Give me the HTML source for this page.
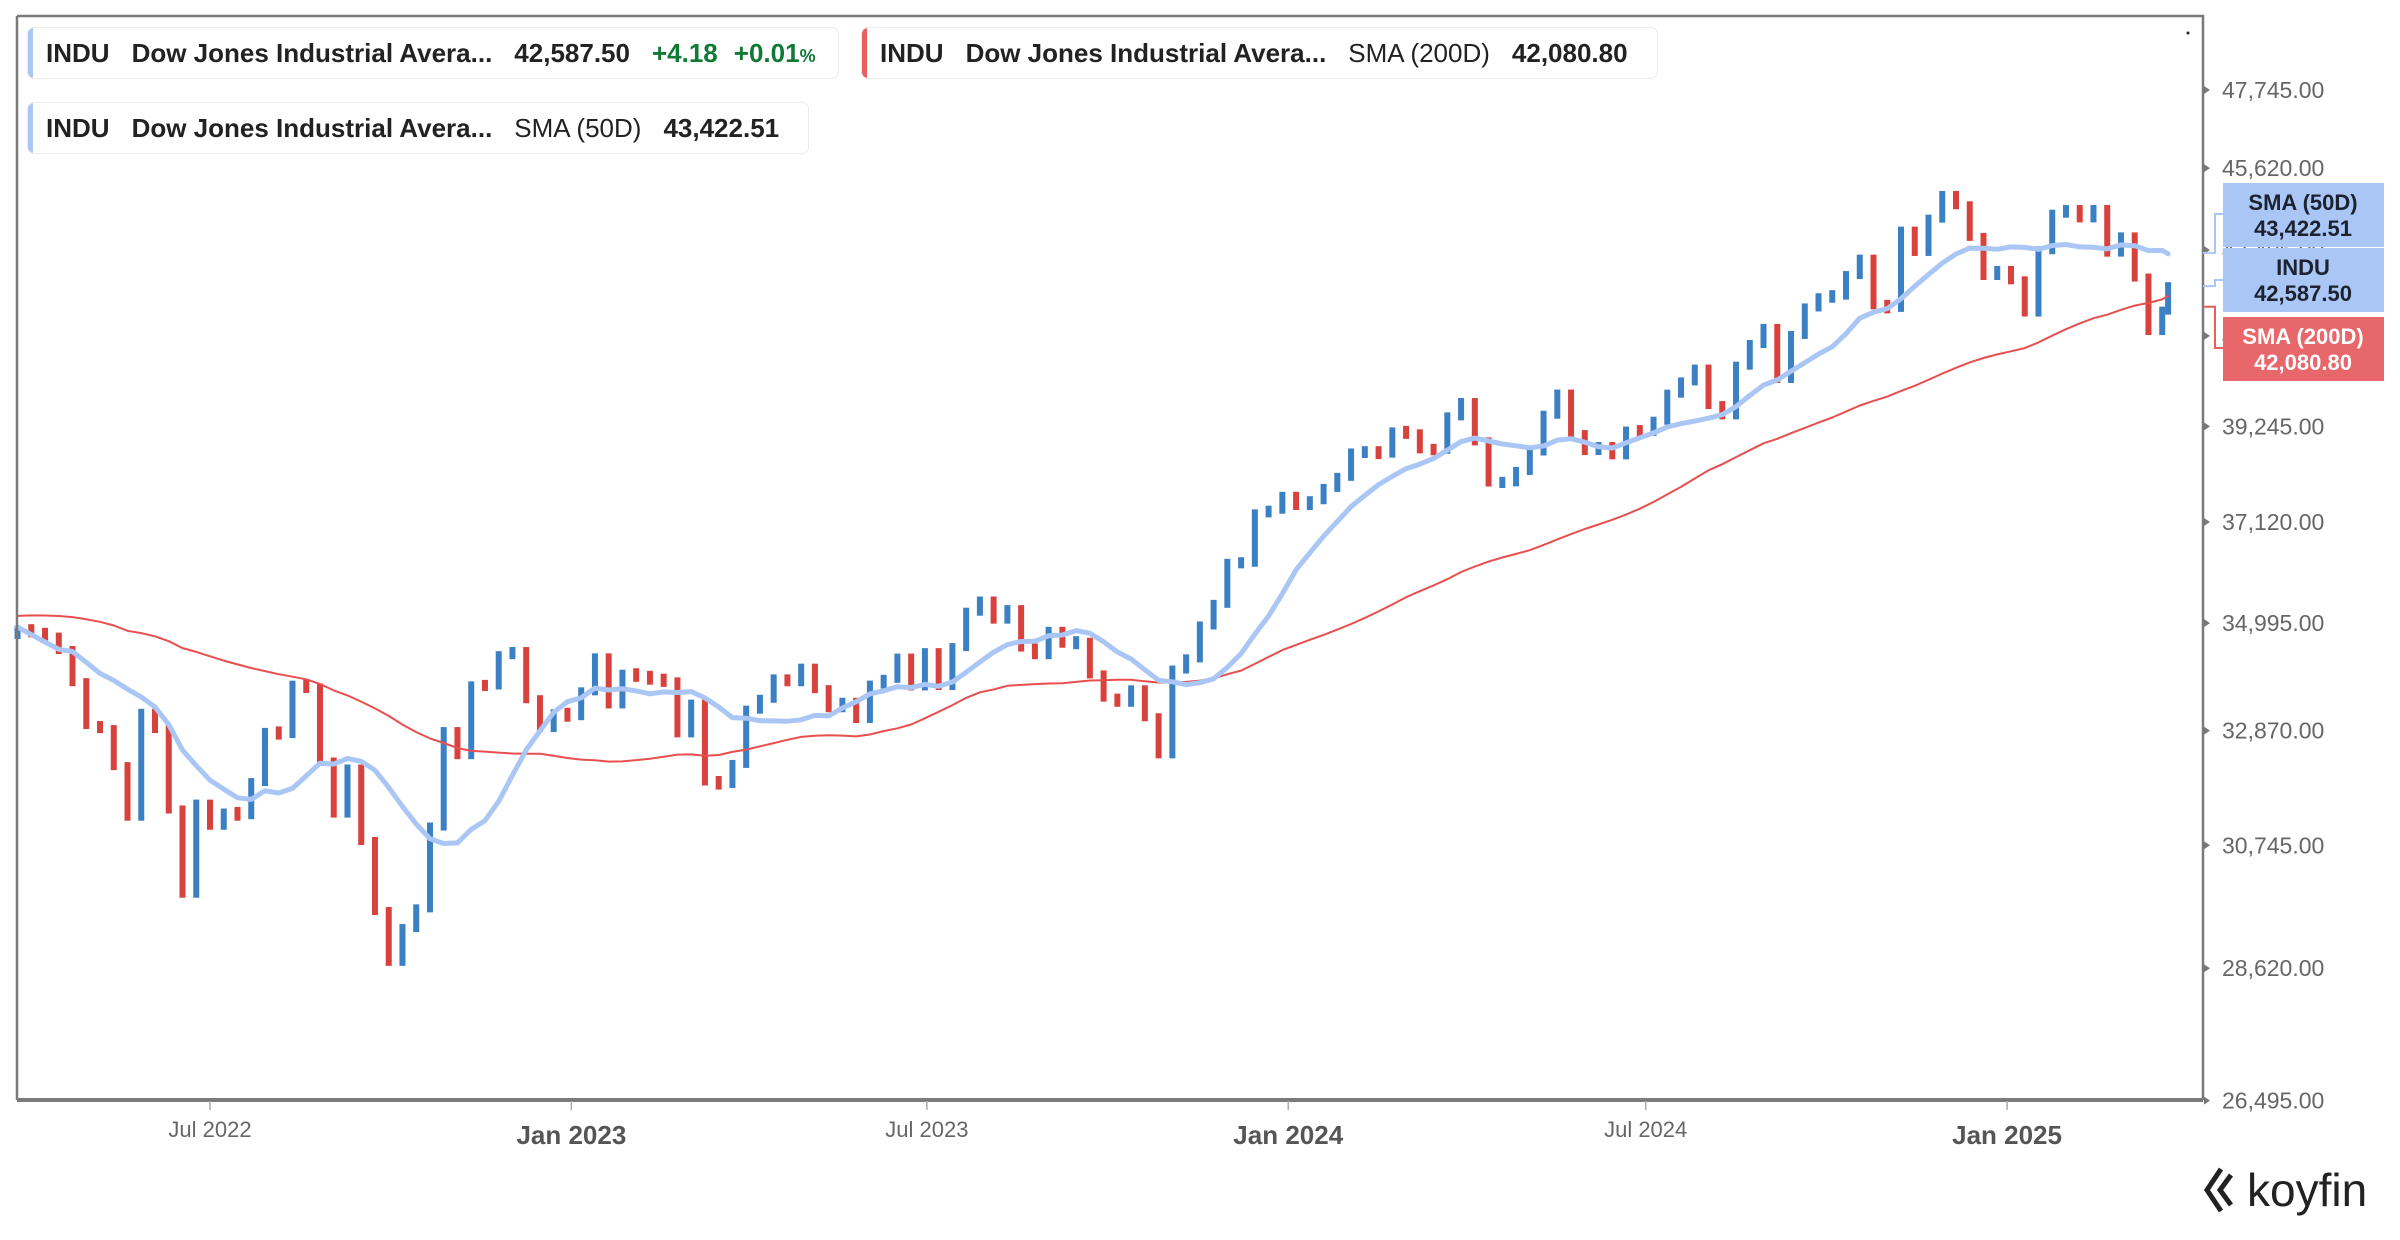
<!DOCTYPE html>
<html><head><meta charset="utf-8"><style>
body{margin:0;background:#fff;width:2400px;height:1240px;overflow:hidden;font-family:"Liberation Sans",sans-serif}
.leg{position:absolute;height:52px;border:1.5px solid #ececec;border-radius:7px;background:#fff;display:flex;align-items:center;font-family:"Liberation Sans Narrow","Liberation Sans",sans-serif;font-size:26px;color:#222;box-sizing:border-box;overflow:hidden}
.leg .strip{position:absolute;left:0;top:0;bottom:0;width:5px}
.leg b{font-weight:bold}
.leg span{margin-right:22px;white-space:nowrap}
</style></head><body>
<div class="leg" style="left:27px;top:27px;width:812px">
<div class="strip" style="background:#a9c6f5"></div>
<span style="margin-left:18px"><b>INDU</b></span><span><b>Dow Jones Industrial Avera...</b></span><span><b>42,587.50</b></span><span style="color:#0f7a34;font-weight:bold;margin-right:16px">+4.18</span><span style="color:#0f7a34;font-weight:bold">+0.01<small style="font-size:18px">%</small></span>
</div>
<div class="leg" style="left:861px;top:27px;width:797px">
<div class="strip" style="background:#e85d5d"></div>
<span style="margin-left:18px"><b>INDU</b></span><span><b>Dow Jones Industrial Avera...</b></span><span>SMA (200D)</span><span><b>42,080.80</b></span>
</div>
<div class="leg" style="left:27px;top:102px;width:782px">
<div class="strip" style="background:#a9c6f5"></div>
<span style="margin-left:18px"><b>INDU</b></span><span><b>Dow Jones Industrial Avera...</b></span><span>SMA (50D)</span><span><b>43,422.51</b></span>
</div>
<svg id="chart" width="2400" height="1240" style="position:absolute;left:0;top:0;z-index:-1" xmlns="http://www.w3.org/2000/svg"></svg>
<div style="position:absolute;left:2203px;top:1163px;font-size:46px;color:#222;font-family:'Liberation Sans',sans-serif;display:flex;align-items:center">
<svg width="40" height="46" viewBox="0 0 40 46"><path d="M18 2 L4 23 L18 44 M28 8 L17 23 L28 38" stroke="#222" stroke-width="5" fill="none"/></svg><span style="margin-left:4px">koyfin</span></div>
<script>
const preCloses=[33290,34433,34786,34870,34688,34823,34935,35208,35515,35120,35455,35369,35443,34608,34584,34798,34326,34746,35295,35295,35677,35820,35971,36327,36100,35601,34899,34580,35971,35365,35950,36338,36231,35912,34265,35131,35090,33614,32944,34754];
const closes=[34861,34818,34721,34451,33811,32977,32899,32197,31262,33213,32900,31393,29889,31501,31097,31338,31289,31899,32845,32803,33761,33707,32283,31318,32152,30822,29590,28726,29297,29635,31083,32861,32403,33748,33746,34347,34430,33477,32920,33204,33147,
33631,34303,33375,33978,33926,33870,33827,32817,33391,31910,31862,32238,33274,33485,33886,33809,34098,33674,33301,33427,33093,33763,33877,34299,33727,34408,33735,34509,35228,35459,35066,35281,34500,34347,34838,34577,34618,33964,33508,33407,33670,33127,32418,34061,34283,34947,35390,36246,36248,37306,37386,37690,
37466,37593,37864,38109,38654,38671,38628,39131,39087,38723,38715,39476,39807,38904,37983,37986,38240,38676,39513,40004,39070,38686,38799,38589,39150,39119,39376,40001,40288,40590,39737,39498,40660,41175,41563,40345,41394,42063,42314,42353,42864,43276,42114,42052,43989,43445,44297,44911,44643,43828,42840,42992,
42732,41938,43488,44424,44545,44303,44546,43428,43841,42802,41488,41985,42587.5];
const yTicks=[47745,45620,43495,41370,39245,37120,34995,32870,30745,28620,26495];
const xTickLabels=["Jul 2022","Jan 2023","Jul 2023","Jan 2024","Jul 2024","Jan 2025"];
const xTickDates=["2022-07-01","2023-01-01","2023-07-01","2024-01-01","2024-07-01","2025-01-01"];
const startDate="2022-03-25";
const NS="http://www.w3.org/2000/svg";
const svg=document.getElementById('chart');
const DAY=86400000, T0=Date.parse("2022-07-01");
function xOf(t){return 210+(t-T0)/DAY*1.964;}
function yOf(v){return 90+1716*Math.log(47745/v);}
function mk(tag,attrs,parent){const e=document.createElementNS(NS,tag);for(const k in attrs)e.setAttribute(k,attrs[k]);(parent||svg).appendChild(e);return e;}
const S0=Date.parse(startDate);
const dates=closes.map((c,i)=>i<closes.length-1?S0+i*7*DAY:S0+(i-1)*7*DAY+3*DAY);
// bars
const gBars=mk('g',{});


closes.forEach((c,i)=>{
  const o=i===0?preCloses[preCloses.length-1]:closes[i-1];
  const x=xOf(dates[i]);
  let y1=yOf(Math.max(o,c)),y2=yOf(Math.min(o,c));
  if(y2-y1<3){y1-=1.5;y2+=1.5;}
  const r=mk('rect',{x:x-3,y:y1-4,width:6,height:y2-y1+8,fill:c>=o?'#3b80c3':'#d9423c'},gBars);
  
  
});
// SMAs
const all=preCloses.concat(closes);
function sma(n){return closes.map((c,i)=>{const e=preCloses.length+i+1;const s=all.slice(Math.max(0,e-n),e);return s.reduce((a,b)=>a+b,0)/s.length;});}
function line(vals,color,w,name){let d='';vals.forEach((v,i)=>{d+=(i?'L':'M')+xOf(dates[i]).toFixed(1)+' '+yOf(v).toFixed(1);});
  const p=mk('path',{d:d,stroke:color,'stroke-width':w,fill:'none','stroke-linejoin':'round','stroke-linecap':'round'});
  
  }
line(sma(40),'#e84f4f',2,'sma-200d-line');
line(sma(10),'#a9c6f5',5,'sma-50d-line');
// frame
mk('path',{d:'M17 16 H2203 V1100',stroke:'#7a7a7a','stroke-width':2.5,fill:'none'});
mk('line',{x1:17,y1:16,x2:17,y2:1100,stroke:'#7a7a7a','stroke-width':2.5});
const xb=mk('line',{x1:17,y1:1100,x2:2203,y2:1100,stroke:'#7a7a7a','stroke-width':4});


mk('circle',{cx:2188,cy:33,r:1.5,fill:'#222'});
// y ticks
yTicks.forEach(v=>{const y=yOf(v);
  mk('path',{d:`M2204 ${y-4} L2210 ${y} L2204 ${y+4}Z`,fill:'#777'});
  const t=mk('text',{x:2222,y:y+8,'font-size':23,fill:'#666','font-family':'Liberation Sans, sans-serif'});
  t.textContent=v.toLocaleString('en-US',{minimumFractionDigits:2});
  
  });
// x ticks
xTickLabels.forEach((lab,i)=>{const x=xOf(Date.parse(xTickDates[i]));const jan=lab.startsWith('Jan');
  mk('line',{x1:x,y1:1101,x2:x,y2:1110,stroke:'#aaa','stroke-width':1.5});
  const t=mk('text',{x:x,y:jan?1144:1137,'text-anchor':'middle','font-size':jan?26:22,'font-weight':jan?'bold':'normal',fill:jan?'#555':'#666','font-family':'Liberation Sans, sans-serif'});
  t.textContent=lab;
  
  });
// badges
mk('polyline',{points:`2203,${yOf(43422.51)} 2215,${yOf(43422.51)} 2215,214 2223,214`,stroke:'#a9c6f5','stroke-width':2,fill:'none'});
mk('polyline',{points:`2203,${yOf(42587.5)} 2215,${yOf(42587.5)} 2215,280 2223,280`,stroke:'#a9c6f5','stroke-width':2,fill:'none'});
mk('polyline',{points:`2203,${yOf(42080.8)} 2215,${yOf(42080.8)} 2215,348 2223,348`,stroke:'#e85d5d','stroke-width':2,fill:'none'});
[[183,'#a9c6f5','#1c2230','SMA (50D)','43,422.51','badge-sma50'],[248,'#a9c6f5','#1c2230','INDU','42,587.50','badge-indu'],[317,'#e8676a','#fff','SMA (200D)','42,080.80','badge-sma200']].forEach(b=>{
  const g=mk('g',{});
  
  
  mk('rect',{x:2223,y:b[0],width:161,height:64,fill:b[1]},g);
  const t1=mk('text',{x:2303,y:b[0]+27,'text-anchor':'middle','font-size':22,'font-weight':'bold',fill:b[2]},g);t1.textContent=b[3];
  const t2=mk('text',{x:2303,y:b[0]+53,'text-anchor':'middle','font-size':22,'font-weight':'bold',fill:b[2]},g);t2.textContent=b[4];
});
</script>
</body></html>
